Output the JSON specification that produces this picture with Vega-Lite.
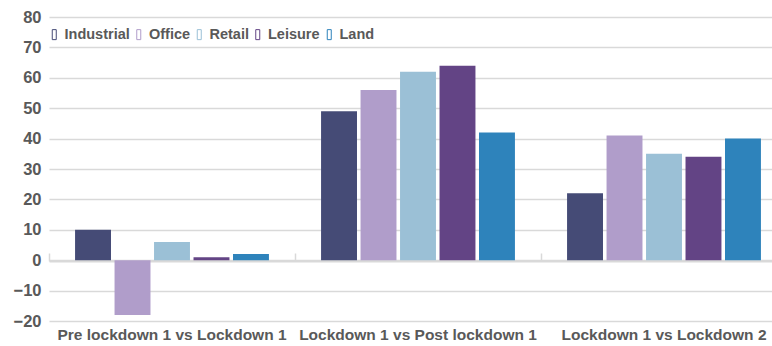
{
  "$schema": "https://vega.github.io/schema/vega-lite/v6.json",
  "width": 723,
  "height": 304,
  "autosize": {"type": "none"},
  "padding": {"left": 49, "top": 17, "right": 0, "bottom": 25},
  "config": {
    "view": {"stroke": null},
    "font": "Liberation Sans",
    "legend": {"labelFont": "Liberation Sans"}
  },
  "data": {
    "values": [
      {"period": "Pre lockdown 1 vs Lockdown 1", "sector": "Industrial", "value": 10},
      {"period": "Pre lockdown 1 vs Lockdown 1", "sector": "Office", "value": -18},
      {"period": "Pre lockdown 1 vs Lockdown 1", "sector": "Retail", "value": 6},
      {"period": "Pre lockdown 1 vs Lockdown 1", "sector": "Leisure", "value": 1},
      {"period": "Pre lockdown 1 vs Lockdown 1", "sector": "Land", "value": 2},
      {"period": "Lockdown 1 vs Post lockdown 1", "sector": "Industrial", "value": 49},
      {"period": "Lockdown 1 vs Post lockdown 1", "sector": "Office", "value": 56},
      {"period": "Lockdown 1 vs Post lockdown 1", "sector": "Retail", "value": 62},
      {"period": "Lockdown 1 vs Post lockdown 1", "sector": "Leisure", "value": 64},
      {"period": "Lockdown 1 vs Post lockdown 1", "sector": "Land", "value": 42},
      {"period": "Lockdown 1 vs Lockdown 2", "sector": "Industrial", "value": 22},
      {"period": "Lockdown 1 vs Lockdown 2", "sector": "Office", "value": 41},
      {"period": "Lockdown 1 vs Lockdown 2", "sector": "Retail", "value": 35},
      {"period": "Lockdown 1 vs Lockdown 2", "sector": "Leisure", "value": 34},
      {"period": "Lockdown 1 vs Lockdown 2", "sector": "Land", "value": 40}
    ]
  },
  "layer": [
    {
      "mark": {"type": "bar"},
      "encoding": {
        "x": {
          "field": "period",
          "type": "nominal",
          "sort": ["Pre lockdown 1 vs Lockdown 1", "Lockdown 1 vs Post lockdown 1", "Lockdown 1 vs Lockdown 2"],
          "scale": {"range": [0, 738], "paddingInner": 0, "paddingOuter": 0},
          "axis": {
            "orient": "bottom",
            "title": null,
            "labelAngle": 0,
            "ticks": false,
            "domain": false,
            "grid": false,
            "labelFont": "Liberation Sans",
            "labelFontSize": 15.5,
            "labelFontWeight": "bold",
            "labelColor": "#595959",
            "labelPadding": 6,
            "labelLimit": 0
          }
        },
        "xOffset": {
          "field": "sector",
          "type": "nominal",
          "sort": ["Industrial", "Office", "Retail", "Leisure", "Land"],
          "scale": {"paddingInner": 0.09, "paddingOuter": 0.66}
        },
        "y": {
          "field": "value",
          "type": "quantitative",
          "scale": {"domain": [-20, 80], "nice": false},
          "axis": {
            "title": null,
            "values": [-20, -10, 0, 10, 20, 30, 40, 50, 60, 70, 80],
            "grid": true,
            "gridColor": "#d9d9d9",
            "gridWidth": 1.5,
            "domain": false,
            "ticks": false,
            "labelOverlap": false,
            "labelFont": "Liberation Sans",
            "labelFontSize": 16.5,
            "labelFontWeight": "bold",
            "labelColor": "#595959",
            "labelPadding": 8
          }
        },
        "color": {
          "field": "sector",
          "type": "nominal",
          "sort": ["Industrial", "Office", "Retail", "Leisure", "Land"],
          "scale": {
            "domain": ["Industrial", "Office", "Retail", "Leisure", "Land"],
            "range": ["#454b76", "#b09dca", "#9bc0d6", "#634485", "#2e83bb"]
          },
          "legend": {
            "title": null,
            "orient": "none",
            "legendX": -2,
            "legendY": 10,
            "direction": "horizontal",
            "symbolType": "M-0.4,-1H0.4V1H-0.4Z",
            "symbolSize": 100,
            "symbolStrokeWidth": 1,
            "labelFont": "Liberation Sans",
            "labelFontSize": 14.5,
            "labelFontWeight": "bold",
            "labelColor": "#595959",
            "labelOffset": 3,
            "columnPadding": 1.5,
            "padding": 0,
            "encode": {
              "symbols": {
                "update": {
                  "fill": {"value": "transparent"},
                  "fillOpacity": {"value": 0},
                  "stroke": {"scale": "color", "field": "value"},
                  "strokeWidth": {"value": 1}
                }
              }
            }
          }
        }
      }
    },
    {
      "mark": {"type": "bar", "opacity": 0},
      "encoding": {
        "x": {
          "field": "period",
          "type": "nominal",
          "sort": ["Pre lockdown 1 vs Lockdown 1", "Lockdown 1 vs Post lockdown 1", "Lockdown 1 vs Lockdown 2"],
          "axis": {
            "orient": "top",
            "offset": -244,
            "labels": false,
            "title": null,
            "grid": false,
            "tickBand": "extent",
            "tickSize": 8,
            "tickColor": "#d9d9d9",
            "tickWidth": 1.5,
            "domain": true,
            "domainColor": "#d9d9d9",
            "domainWidth": 2
          }
        },
        "y": {
          "field": "value",
          "type": "quantitative",
          "axis": {
            "title": null,
            "values": [-20, -10, 0, 10, 20, 30, 40, 50, 60, 70, 80],
            "grid": true,
            "gridColor": "#d9d9d9",
            "gridWidth": 1.5,
            "domain": false,
            "ticks": false,
            "labelOverlap": false,
            "labelFont": "Liberation Sans",
            "labelFontSize": 16.5,
            "labelFontWeight": "bold",
            "labelColor": "#595959",
            "labelPadding": 8
          }
        }
      }
    }
  ],
  "resolve": {"axis": {"x": "independent"}}
}
